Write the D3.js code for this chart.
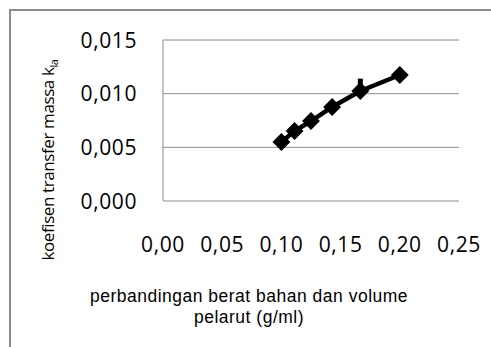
<!DOCTYPE html>
<html>
<head>
<meta charset="utf-8">
<script src="https://cdn.jsdelivr.net/npm/d3@7"></script>
<style>
  body { margin: 0; background: #fff; }
  text { font-family: "Open Sans", sans-serif; fill: #000; }
</style>
</head>
<body>
<div id="chart"></div>
<script>
// rasio berat bahan / volume pelarut (g/ml)
var ratio = [1/10, 1/9, 1/8, 1/7, 1/6, 1/5];
// koefisien transfer massa kla
var kla = [0.0055, 0.00652, 0.00745, 0.00876, 0.01025, 0.01174];
// error bar atas (hanya terlihat di titik ke-5)
var klaTop = [null, null, null, null, 0.0114, null];

var xTicks = [0, 0.05, 0.10, 0.15, 0.20, 0.25];
var yTicks = [0, 0.005, 0.010, 0.015];

var W = 491, H = 347;
var svg = d3.select('#chart').append('svg')
  .attr('width', W)
  .attr('height', H);

// bingkai
svg.append('rect')
  .attr('x', 10).attr('y', 10)
  .attr('width', W + 20).attr('height', H + 20)
  .attr('fill', 'none')
  .attr('stroke', '#8c8c8c')
  .attr('stroke-width', 2);

var xScale = d3.scaleLinear().domain([0, 0.25]).range([163, 459]);
var yScale = d3.scaleLinear().domain([0, 0.015]).range([201, 40]);

var fmtX = function(d) { return d3.format('.2f')(d).replace('.', ','); };
var fmtY = function(d) { return d3.format('.3f')(d).replace('.', ','); };

// gridlines
svg.append('g')
  .selectAll('line')
  .data(yTicks)
  .enter()
  .append('line')
  .attr('x1', xScale(0))
  .attr('x2', xScale(0.25))
  .attr('y1', function(d) { return yScale(d); })
  .attr('y2', function(d) { return yScale(d); })
  .attr('stroke', '#8c8c8c')
  .attr('stroke-width', 1);

// sumbu y (garis kiri)
svg.append('line')
  .attr('x1', xScale(0)).attr('x2', xScale(0))
  .attr('y1', yScale(0.015)).attr('y2', yScale(0))
  .attr('stroke', '#8c8c8c');

// label y
svg.append('g')
  .selectAll('text')
  .data(yTicks)
  .enter()
  .append('text')
  .attr('x', 137)
  .attr('y', function(d) { return yScale(d); })
  .attr('dy', '0.36em')
  .attr('text-anchor', 'end')
  .style('font-size', '21px')
  .style('letter-spacing', '0.6px')
  .text(fmtY);

// label x (di bawah, terpisah dari plot)
svg.append('g')
  .selectAll('text')
  .data(xTicks)
  .enter()
  .append('text')
  .attr('x', function(d) { return xScale(d); })
  .attr('y', 252)
  .attr('text-anchor', 'middle')
  .style('font-size', '21px')
  .style('letter-spacing', '0.6px')
  .text(fmtX);

var pts = ratio.map(function(r, i) { return { x: r, y: kla[i], top: klaTop[i] }; });

var line = d3.line()
  .x(function(d) { return xScale(d.x); })
  .y(function(d) { return yScale(d.y); });

svg.append('path')
  .attr('d', line(pts))
  .attr('fill', 'none')
  .attr('stroke', '#000')
  .attr('stroke-width', 4.5);

// error bar
svg.append('g')
  .selectAll('line')
  .data(pts.filter(function(d) { return d.top != null; }))
  .enter()
  .append('line')
  .attr('x1', function(d) { return xScale(d.x); })
  .attr('x2', function(d) { return xScale(d.x); })
  .attr('y1', function(d) { return yScale(d.y); })
  .attr('y2', function(d) { return yScale(d.top); })
  .attr('stroke', '#000')
  .attr('stroke-width', 5);

// marker diamond
var diamond = d3.symbol().type(d3.symbolSquare).size(160);
svg.append('g')
  .selectAll('path')
  .data(pts)
  .enter()
  .append('path')
  .attr('d', diamond)
  .attr('transform', function(d) {
    return 'translate(' + xScale(d.x) + ',' + yScale(d.y) + ') rotate(45)';
  })
  .attr('fill', '#000');

// judul sumbu y
var yt = svg.append('text')
  .attr('transform', 'translate(54,160) rotate(-90)')
  .attr('text-anchor', 'middle')
  .style('font-size', '17px')
  .style('letter-spacing', '-0.4px');
yt.append('tspan').text('koefisen transfer massa k');
yt.append('tspan').attr('dy', 4).style('font-size', '11px').text('la');

// judul sumbu x
svg.append('text')
  .attr('x', 249).attr('y', 302)
  .attr('text-anchor', 'middle')
  .style('font-family', '"Liberation Sans", sans-serif')
  .style('font-size', '17.5px')
  .style('letter-spacing', '0.5px')
  .text('perbandingan berat bahan dan volume');
svg.append('text')
  .attr('x', 249).attr('y', 323)
  .attr('text-anchor', 'middle')
  .style('font-family', '"Liberation Sans", sans-serif')
  .style('font-size', '17.5px')
  .style('letter-spacing', '0.5px')
  .text('pelarut (g/ml)');
</script>
</body>
</html>
